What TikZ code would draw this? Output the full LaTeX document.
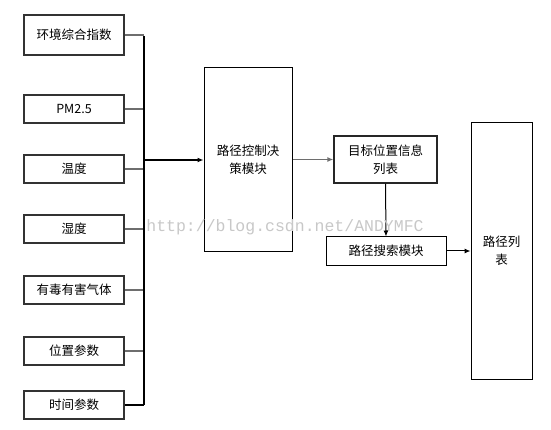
\documentclass[tikz,border=0pt]{standalone}
\usepackage{fontspec}
\usepackage{xcolor}
\usepackage{tikz}
\usetikzlibrary{arrows.meta}
\newfontfamily\cjk{Noto Sans CJK SC}
\newfontfamily\markfont{Liberation Mono}
\definecolor{EdgeGray}{HTML}{6E6E6E}
\definecolor{MarkGray}{HTML}{C8C8C8}
\tikzset{
  inbox/.style={draw=black!80,line width=1.1pt,fill=white,
    minimum width=100pt,minimum height=28pt,inner sep=0pt,
    font=\cjk\fontsize{12.5}{17}\selectfont,align=center},
  modbox/.style={draw=black,line width=1.0pt,fill=white,inner sep=0pt,
    font=\cjk\fontsize{12.5}{18}\selectfont,align=center},
  feed/.style={line width=1.4pt,draw=EdgeGray},
  bus/.style={line width=1.1pt,draw=black},
  busarrow/.style={line width=1.8pt,draw=black,-{Latex[length=6pt,width=5pt]}},
  edgeA/.style={line width=1.4pt,draw=EdgeGray,-{Latex[length=6pt,width=5pt]}},
  edgeB/.style={line width=1.0pt,draw=black,-{Latex[length=6pt,width=5pt]}},
}
\begin{document}
\begin{tikzpicture}[x=1pt,y=-1pt]
  \useasboundingbox (0,0) rectangle (551,430);
  % inputs
  \node[inbox,minimum height=40pt] (in1) at (74,35) {环境综合指数};
  \node[inbox] (in2) at (74,109) {PM2.5};
  \node[inbox] (in3) at (74,169) {温度};
  \node[inbox] (in4) at (74,229) {湿度};
  \node[inbox] (in5) at (74,290) {有毒有害气体};
  \node[inbox] (in6) at (74,351) {位置参数};
  \node[inbox] (in7) at (74,405) {时间参数};
  % modules
  \node[modbox,minimum width=88pt,minimum height=184pt] (ctrl) at (248,160) {路径控制决\\策模块};
  \node[modbox,draw=black!85,line width=1.2pt,minimum width=103pt,minimum height=47pt] (target) at (385.5,159.5) {目标位置信息\\列表};
  \node[modbox,minimum width=120pt,minimum height=28pt] (search) at (386,251) {路径搜索模块};
  \node[modbox,minimum width=61pt,minimum height=256pt] (route) at (501.5,251) {路径列\\表};
  % bus
  \coordinate (busTop) at (144,36);
  \coordinate (busBot) at (144,405);
  \coordinate (busMid) at (144,160);
  \foreach \i in {1,...,6}
    \draw[feed] (in\i.east) -- (in\i.east -| busTop);
  \draw[bus] (in7.east) -- (in7.east -| busTop);
  \draw[bus] (busTop) -- (busBot);
  \draw[busarrow] (busMid) -- (ctrl.west |- busMid);
  \draw[edgeA] (ctrl.east |- target.west) -- (target.west);
  \draw[edgeB] (target.south) -- (search.north);
  \draw[edgeB] (search.east) -- (route.west |- search.east);
  % watermark
  \node[font=\markfont\fontsize{16.5}{18}\selectfont,text=MarkGray,inner sep=0pt] (mark) at (285,227) {http://blog.csdn.net/ANDYMFC};
\end{tikzpicture}
\end{document}
